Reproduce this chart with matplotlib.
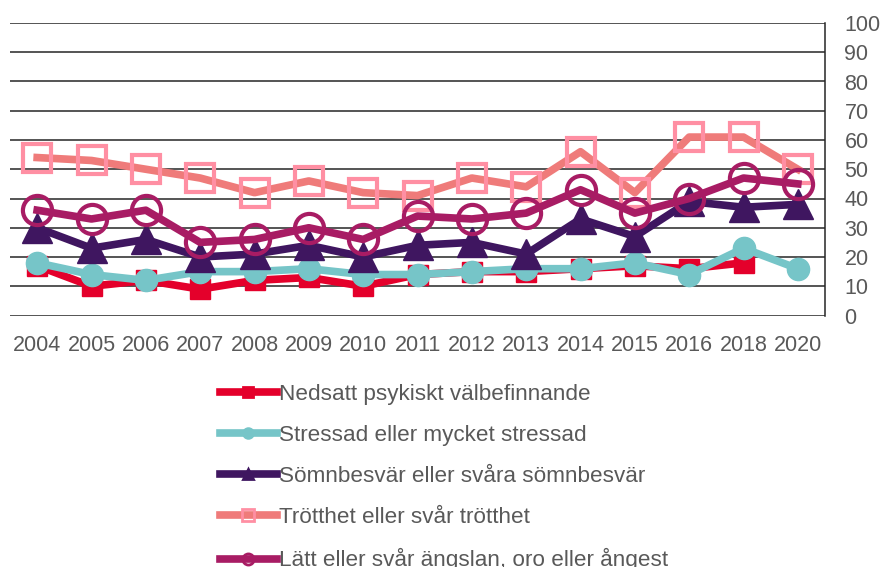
import matplotlib
matplotlib.use("Agg")
import matplotlib.pyplot as plt
import numpy as np

plt.rcParams['font.family'] = ['Liberation Sans', 'DejaVu Sans']

years = ["2004", "2005", "2006", "2007", "2008", "2009", "2010", "2011",
         "2012", "2013", "2014", "2015", "2016", "2018", "2020"]

nedsatt = [17, 10, 12, 9, 12, 13, 10, 14, 15, 15, 16, 17, 16, 18, np.nan]
stressad = [18, 14, 12, 15, 15, 16, 14, 14, 15, 16, 16, 18, 14, 23, 16]
somn = [30, 23, 26, 20, 21, 24, 20, 24, 25, 21, 33, 27, 39, 37, 38]
trotthet = [54, 53, 50, 47, 42, 46, 42, 41, 47, 44, 56, 42, 61, 61, 50]
angslan = [36, 33, 36, 25, 26, 30, 26, 34, 33, 35, 43, 35, 40, 47, 45]

labels = ["Nedsatt psykiskt välbefinnande",
          "Stressad eller mycket stressad",
          "Sömnbesvär eller svåra sömnbesvär",
          "Trötthet eller svår trötthet",
          "Lätt eller svår ängslan, oro eller ångest"]

W, H = 884, 567
fig = plt.figure(figsize=(W / 100, H / 100), dpi=100)
ax = fig.add_axes([10 / W, 1 - 315.5 / H, (825 - 10) / W, (315.5 - 23) / H])

x = np.arange(len(years))
lw = 5.5
h1, = ax.plot(x, nedsatt, color="#E4002B", lw=lw, marker="s", ms=14,
              mfc="#E4002B", mec="#E4002B", zorder=3)
h2, = ax.plot(x, stressad, color="#76C5C8", lw=lw, marker="o", ms=16,
              mfc="#76C5C8", mec="#76C5C8", zorder=4)
h3, = ax.plot(x, somn, color="#3F1660", lw=lw, marker="^", ms=22,
              mfc="#3F1660", mec="#3F1660", zorder=5)
h4, = ax.plot(x, trotthet, color="#EF7B7A", lw=lw, marker="s", ms=20,
              mfc="none", mec="#FF8FA3", mew=3, zorder=6)
h5, = ax.plot(x, angslan, color="#A81C64", lw=lw, marker="o", ms=21,
              mfc="none", mec="#A81C64", mew=3, zorder=7)

ax.set_xlim(-0.5, len(years) - 0.5)
ax.set_ylim(0, 100)
ax.set_yticks(np.arange(0, 101, 10))
ax.set_xticks(x)
ax.set_xticklabels(years)
ax.yaxis.tick_right()
ax.tick_params(axis="both", length=0, labelsize=15.5, colors="#595959")
ax.tick_params(axis="y", pad=14)
ax.tick_params(axis="x", pad=14)
ax.grid(axis="y", color="#262626", lw=1.1, zorder=0)
for s in ["top", "left", "bottom"]:
    ax.spines[s].set_visible(False)
ax.spines["right"].set_color("#262626")
ax.spines["right"].set_linewidth(1.1)
ax.set_axisbelow(True)

leg = fig.legend([h1, h2, h3, h4, h5], labels, loc="upper left",
                 bbox_to_anchor=(209 / W, 1 - 373 / H), frameon=False,
                 fontsize=16.2, labelcolor="#595959", handlelength=2.5,
                 handletextpad=0.1, labelspacing=0.89, borderpad=0)
sizes = [7, 7, 7, 9, 8]
for hdl, s in zip(leg.legend_handles, sizes):
    hdl.set_markersize(s)
    hdl.set_markeredgewidth(2)

fig.savefig("out.png", dpi=100)
